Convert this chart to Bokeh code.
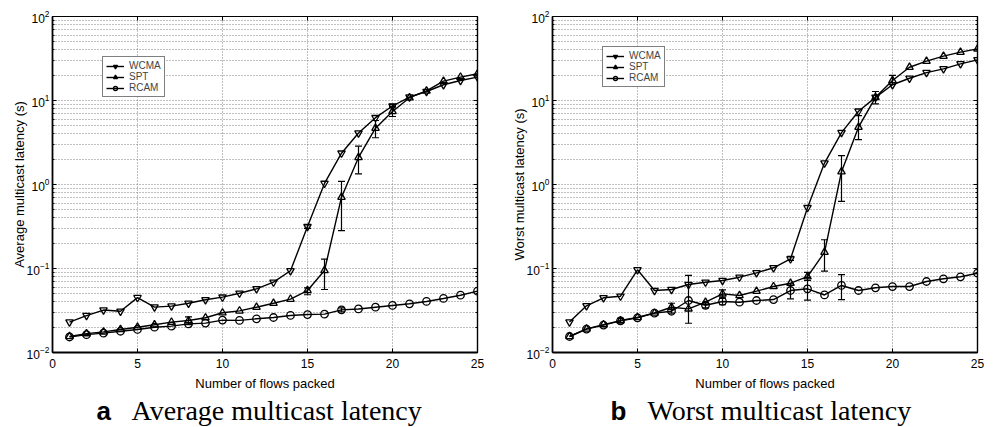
from bokeh.plotting import figure
from bokeh.models import (LogAxis, LinearAxis, FixedTicker, Legend, LegendItem, Whisker,
                          ColumnDataSource, TeeHead, Range1d, CustomJSTickFormatter)
from bokeh.core.properties import value
from bokeh.layouts import row, column
from bokeh.embed import file_html
from bokeh.resources import INLINE

# ---------------- data ----------------
flows = list(range(1, 26))

avg_wcma = [0.023, 0.0275, 0.032, 0.031, 0.045, 0.0347, 0.0357, 0.0386, 0.0424, 0.0456,
            0.0508, 0.0573, 0.0687, 0.094, 0.316, 1.03, 2.36, 4.1, 6.25, 8.6,
            11.0, 12.8, 15.4, 17.3, 19.0]
avg_spt = [0.0155, 0.0168, 0.0176, 0.0188, 0.020, 0.0214, 0.023, 0.024, 0.0259, 0.0297,
           0.0313, 0.0346, 0.0386, 0.0432, 0.0547, 0.0947, 0.706, 2.1, 4.68, 7.4,
           10.8, 13.0, 17.0, 19.0, 20.8]
avg_rcam = [0.0153, 0.0163, 0.017, 0.0179, 0.0188, 0.020, 0.0206, 0.0219, 0.0224, 0.0243,
            0.0241, 0.0252, 0.0261, 0.0276, 0.0283, 0.0286, 0.0322, 0.033, 0.0346, 0.0363,
            0.038, 0.0405, 0.044, 0.0481, 0.0537]

avg_wcma_err_x = [15, 20]
avg_wcma_err_lo = [0.30, 8.2]
avg_wcma_err_hi = [0.33, 9.0]
avg_spt_err_x = [8, 15, 16, 17, 18, 19, 20]
avg_spt_err_lo = [0.0215, 0.0487, 0.0562, 0.283, 1.34, 3.6, 6.45]
avg_spt_err_hi = [0.0265, 0.0589, 0.129, 1.09, 2.86, 5.78, 8.5]
avg_rcam_err_x = [17]
avg_rcam_err_lo = [0.0305]
avg_rcam_err_hi = [0.034]

worst_wcma = [0.023, 0.036, 0.0448, 0.0468, 0.0965, 0.0547, 0.0562, 0.0645, 0.0687, 0.0719,
              0.0788, 0.0888, 0.102, 0.13, 0.53, 1.8, 4.15, 7.46, 10.9, 15.4,
              18.4, 21.5, 23.8, 27.3, 30.5]
worst_spt = [0.0155, 0.0191, 0.0215, 0.024, 0.0262, 0.0295, 0.0346, 0.0331, 0.0397, 0.0499,
             0.0477, 0.0537, 0.061, 0.0668, 0.08, 0.156, 1.42, 4.81, 10.9, 17.3,
             24.9, 29.4, 33.7, 37.6, 41.2]
worst_rcam = [0.0155, 0.019, 0.0212, 0.0238, 0.0259, 0.0294, 0.031, 0.0416, 0.0365, 0.0405,
              0.0397, 0.0416, 0.0427, 0.0547, 0.0573, 0.0484, 0.0628, 0.0547, 0.0589, 0.061,
              0.061, 0.07, 0.0754, 0.0797, 0.0879]

worst_wcma_err_x = [14]
worst_wcma_err_lo = [0.125]
worst_wcma_err_hi = [0.14]
worst_spt_err_x = [4, 7, 10, 15, 16, 17, 18, 19, 20]
worst_spt_err_lo = [0.0225, 0.0294, 0.0448, 0.072, 0.093, 0.628, 3.43, 9.1, 15.5]
worst_spt_err_hi = [0.0255, 0.0386, 0.0557, 0.09, 0.22, 2.21, 6.6, 12.8, 19.9]
worst_rcam_err_x = [8, 9, 10, 14, 15, 17]
worst_rcam_err_lo = [0.0223, 0.034, 0.037, 0.0436, 0.042, 0.0427]
worst_rcam_err_hi = [0.0826, 0.039, 0.044, 0.0657, 0.078, 0.0847]

x_ticks = [0, 5, 10, 15, 20, 25]
y_major = [0.01, 0.1, 1, 10, 100]
y_minor = [m * d for d in [0.01, 0.1, 1, 10] for m in range(2, 10)]

series_names = ["WCMA", "SPT", "RCAM"]
markers = ["inverted_triangle", "triangle", "circle"]
x_label = "Number of flows packed"

SANS = "Liberation Sans"
SERIF = "Liberation Serif"
GRID = "#808080"


def make_panel(ys, errs, ylabel, lb, rb, legend_loc):
    p = figure(y_axis_type="log", x_range=Range1d(0, 25), y_range=Range1d(0.01, 100),
               frame_width=425, frame_height=336,
               min_border_left=lb, min_border_right=rb, min_border_top=16, min_border_bottom=22,
               output_backend="svg", toolbar_location=None,
               background_fill_color="white", border_fill_color="white")
    p.outline_line_color = "black"
    p.outline_line_width = 1

    xt = FixedTicker(ticks=x_ticks)
    yt = FixedTicker(ticks=y_major, minor_ticks=y_minor)

    for ax in p.xaxis:
        ax.ticker = xt
    for ax in p.yaxis:
        ax.ticker = yt
    for ax in list(p.xaxis) + list(p.yaxis):
        ax.axis_line_width = 1.8
        ax.axis_line_color = "black"
        ax.major_tick_in = 4
        ax.major_tick_out = 0
        ax.minor_tick_in = 2
        ax.minor_tick_out = 0
        ax.major_label_text_font = SANS
        ax.major_label_text_font_size = "12px"
        ax.major_label_text_color = "black"
        ax.axis_label_text_font = SANS
        ax.axis_label_text_font_size = "13px"
        ax.axis_label_text_font_style = "normal"
        ax.axis_label_text_color = "black"
        ax.major_label_standoff = 3
    p.xaxis.major_label_standoff = 6
    p.yaxis.axis_label = ylabel
    p.yaxis.axis_label_standoff = -3

    blank = CustomJSTickFormatter(code="return ''")
    ra = LogAxis(ticker=yt, formatter=blank, major_tick_in=4, major_tick_out=0,
                 minor_tick_in=2, minor_tick_out=0, major_label_standoff=0,
                 axis_line_width=1.4)
    p.add_layout(ra, "right")
    ta = LinearAxis(ticker=xt, formatter=blank, major_tick_in=4, major_tick_out=0,
                    minor_tick_out=0, minor_tick_in=0, major_label_standoff=0,
                    axis_line_width=1)
    p.add_layout(ta, "above")

    p.xgrid.ticker = xt
    p.ygrid.ticker = yt
    for g in [p.xgrid, p.ygrid]:
        g.grid_line_color = GRID
        g.grid_line_dash = "1 2"
        g.grid_line_width = 1
    p.ygrid.minor_grid_line_color = GRID
    p.ygrid.minor_grid_line_dash = "1 2"
    p.ygrid.minor_grid_line_width = 1

    items = []
    for name, mk, yv, (ex, elo, ehi) in zip(series_names, markers, ys, errs):
        src = ColumnDataSource(dict(x=flows, y=yv))
        ln = p.line("x", "y", source=src, line_color="black", line_width=1.4)
        sc = p.scatter("x", "y", source=src, marker=mk, size=7.5, fill_color=None,
                       line_color="black", line_width=1.3)
        esrc = ColumnDataSource(dict(x=ex, lo=elo, hi=ehi))
        w = Whisker(source=esrc, base="x", lower="lo", upper="hi", dimension="height",
                    line_color="black", line_width=1.2,
                    upper_head=TeeHead(size=7, line_color="black", line_width=1.2),
                    lower_head=TeeHead(size=7, line_color="black", line_width=1.2))
        p.add_layout(w)
        items.append(LegendItem(label=name, renderers=[ln, sc]))

    leg = Legend(items=items, location=legend_loc, margin=0, padding=3, spacing=0,
                 glyph_width=18, glyph_height=10, label_height=10, label_standoff=5,
                 label_text_font=SANS, label_text_font_size="10px",
                 border_line_color="black", border_line_width=1.6,
                 background_fill_color="white", background_fill_alpha=1)
    p.add_layout(leg)
    return p


def make_caption(letter, caption, letter_x, cap_x, xlab_x, w):
    h = 53
    c = figure(width=w, height=h, x_range=Range1d(0, w), y_range=Range1d(0, h),
               min_border=0, output_backend="svg", toolbar_location=None)
    c.axis.visible = False
    c.grid.visible = False
    c.outline_line_color = None
    c.text(x=[xlab_x], y=[44], text=[x_label], text_font=value(SANS),
           text_font_size="13px", text_color="black", text_align="center",
           text_baseline="alphabetic")
    c.text(x=[letter_x], y=[17], text=[letter], text_font=value(SANS),
           text_font_style="bold", text_font_size="26px", text_color="black",
           text_baseline="alphabetic")
    c.text(x=[cap_x], y=[17], text=[caption], text_font=value(SERIF),
           text_font_size="28px", text_color="black", text_baseline="alphabetic")
    return c


p1 = make_panel([avg_wcma, avg_spt, avg_rcam],
                [(avg_wcma_err_x, avg_wcma_err_lo, avg_wcma_err_hi),
                 (avg_spt_err_x, avg_spt_err_lo, avg_spt_err_hi),
                 (avg_rcam_err_x, avg_rcam_err_lo, avg_rcam_err_hi)],
                "Average multicast latency (s)", 52, 20, (50, 255))
p2 = make_panel([worst_wcma, worst_spt, worst_rcam],
                [(worst_wcma_err_x, worst_wcma_err_lo, worst_wcma_err_hi),
                 (worst_spt_err_x, worst_spt_err_lo, worst_spt_err_hi),
                 (worst_rcam_err_x, worst_rcam_err_lo, worst_rcam_err_hi)],
                "Worst multicast latency (s)", 55, 18, (50, 265))

c1 = make_caption("a", "Average multicast latency", 96, 131, 264.5, 497)
c2 = make_caption("b", "Worst multicast latency", 113, 150, 267.5, 498)

layout = column(row(p1, p2), row(c1, c2))
open("out.html", "w").write(file_html(layout, INLINE))
